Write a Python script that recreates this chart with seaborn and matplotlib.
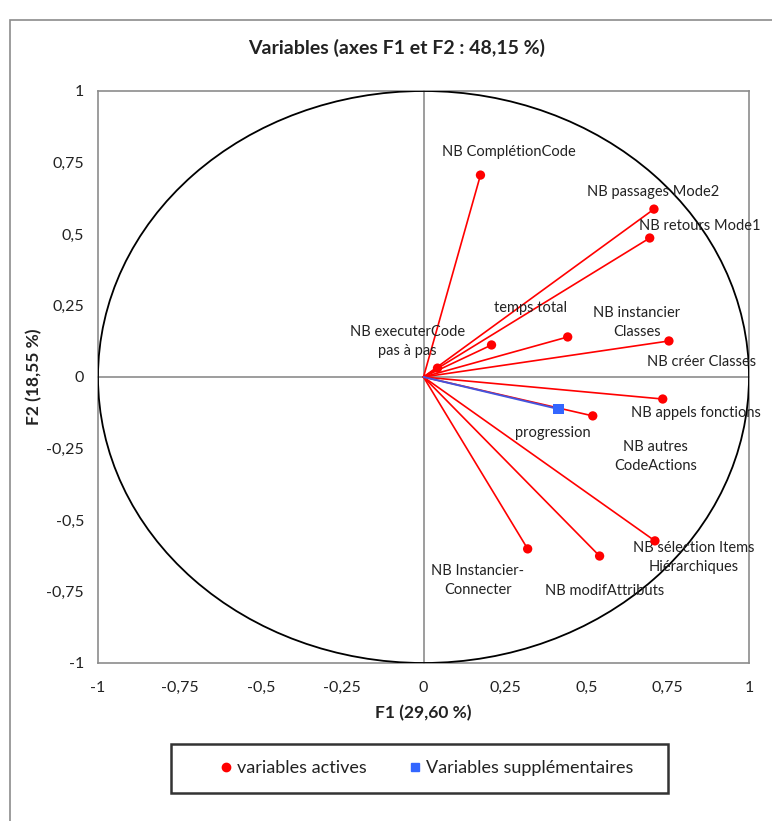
import numpy as np
import matplotlib
matplotlib.use("Agg")
import matplotlib.pyplot as plt
from matplotlib.patches import Circle, Rectangle
from matplotlib.lines import Line2D
import seaborn as sns

variables_actives = [
    "NB ComplétionCode", "NB passages Mode2", "NB retours Mode1", "temps total",
    "NB instancier\nClasses", "NB créer Classes", "NB executerCode\npas à pas",
    "NB appels fonctions", "NB autres\nCodeActions", "NB sélection Items\nHiérarchiques",
    "NB Instancier-\nConnecter", "NB modifAttributs",
]
f1_actives = [0.175, 0.708, 0.695, 0.209, 0.443, 0.754, 0.043, 0.735, 0.520, 0.711, 0.320, 0.541]
f2_actives = [0.706, 0.587, 0.486, 0.112, 0.140, 0.126, 0.031, -0.077, -0.136, -0.573, -0.601, -0.626]

variables_supp = ["progression"]
f1_supp = [0.415]
f2_supp = [-0.112]

ticks = [-1, -0.75, -0.5, -0.25, 0, 0.25, 0.5, 0.75, 1]
tick_labels = ["-1", "-0,75", "-0,5", "-0,25", "0", "0,25", "0,5", "0,75", "1"]

titre = "Variables (axes F1 et F2 : 48,15 %)"
label_x = "F1 (29,60 %)"
label_y = "F2 (18,55 %)"

# Decalage des etiquettes (pixels) par rapport aux points
decalages_actives = [(28, 23), (-1, 17), (50, 12), (39, 37), (69, 14), (33, -21), (-30, 27),
                     (33, -14), (63, -41), (39, -17), (-50, -32), (5, -35)]
decalages_supp = [(-6, -24)]

sns.set_theme(style="white")
plt.rcParams["font.family"] = ["Lato", "DejaVu Sans"]

ROUGE = "#ff0000"
BLEU = "#3366ff"
GRIS = "#8c8c8c"
TEXTE = "#222222"

fig = plt.figure(figsize=(7.72, 8.21), dpi=100)
pos = [98 / 772, 1 - 663 / 821, 651 / 772, 572 / 821]

# Cadre exterieur du graphique
fig.patches.append(Rectangle((10 / 772, -0.1), 1.2, 1.1 - 20 / 821, transform=fig.transFigure,
                             fill=False, edgecolor=GRIS, linewidth=1.2))

# Axe cadre avec les graduations
ax_cadre = fig.add_axes(pos)
ax_cadre.set_xlim(-1, 1)
ax_cadre.set_ylim(-1, 1)
ax_cadre.set_xticks(ticks)
ax_cadre.set_xticklabels(tick_labels)
ax_cadre.set_yticks(ticks)
ax_cadre.set_yticklabels(tick_labels)
ax_cadre.tick_params(length=0, labelsize=11.5, pad=13, colors=TEXTE)
ax_cadre.tick_params(axis="y", pad=10)
for sp in ax_cadre.spines.values():
    sp.set_color(GRIS)
    sp.set_linewidth(1.2)
ax_cadre.set_xlabel(label_x, fontsize=12.5, fontweight="bold", labelpad=7, color=TEXTE)
ax_cadre.set_ylabel(label_y, fontsize=12.5, fontweight="bold", labelpad=3, color=TEXTE)
ax_cadre.set_title(titre, fontsize=14, fontweight="bold", pad=27, color=TEXTE, x=0.459)

# Axe principal avec les axes passant par l'origine
ax = fig.add_axes(pos, facecolor="none")
ax.set_xlim(-1, 1)
ax.set_ylim(-1, 1)
ax.spines["left"].set_position("zero")
ax.spines["bottom"].set_position("zero")
ax.spines["right"].set_visible(False)
ax.spines["top"].set_visible(False)
for cote in ["left", "bottom"]:
    ax.spines[cote].set_color(GRIS)
    ax.spines[cote].set_linewidth(1.2)
    ax.spines[cote].set_zorder(0.5)
ax.set_xticks([t for t in ticks if t != 0])
ax.set_yticks([t for t in ticks if t != 0])
ax.tick_params(direction="inout", length=10, width=1.2, color=GRIS,
               labelbottom=False, labelleft=False)

ax.add_patch(Circle((0, 0), 1, fill=False, edgecolor="black", linewidth=1.3, zorder=1))

for x, y in zip(f1_actives, f2_actives):
    ax.plot([0, x], [0, y], color=ROUGE, linewidth=1.2, zorder=2)
for x, y in zip(f1_supp, f2_supp):
    ax.plot([0, x], [0, y], color="#4455dd", linewidth=1.4, zorder=3)

sns.scatterplot(x=f1_actives, y=f2_actives, ax=ax, color=ROUGE, marker="o", s=45,
                edgecolor="none", zorder=4)
sns.scatterplot(x=f1_supp, y=f2_supp, ax=ax, color=BLEU, marker="s", s=55,
                edgecolor="none", zorder=5)

for nom, x, y, (dx, dy) in zip(variables_actives, f1_actives, f2_actives, decalages_actives):
    ax.annotate(nom, (x, y), xytext=(dx, dy), textcoords="offset pixels", ha="center",
                va="center", fontsize=10.5, color=TEXTE, linespacing=1.45)
for nom, x, y, (dx, dy) in zip(variables_supp, f1_supp, f2_supp, decalages_supp):
    ax.annotate(nom, (x, y), xytext=(dx, dy), textcoords="offset pixels", ha="center",
                va="center", fontsize=10.5, color=TEXTE)

# Legende dans un cadre rectangulaire
fig.patches.append(Rectangle((171 / 772, 1 - 793 / 821), 497 / 772, 49 / 821,
                             transform=fig.transFigure, fill=False, edgecolor="#333333",
                             linewidth=1.8))
poignees = [
    Line2D([], [], linestyle="none", marker="o", color=ROUGE, markersize=6, label="variables actives"),
    Line2D([], [], linestyle="none", marker="s", color=BLEU, markersize=6, label="Variables supplémentaires"),
]
fig.legend(handles=poignees, loc="center", bbox_to_anchor=(425 / 772, 1 - 768 / 821), ncol=2,
           frameon=False, fontsize=13, handletextpad=0.1, columnspacing=2.2,
           handlelength=1.0, labelcolor=TEXTE)

fig.savefig("out.png", dpi=100)
